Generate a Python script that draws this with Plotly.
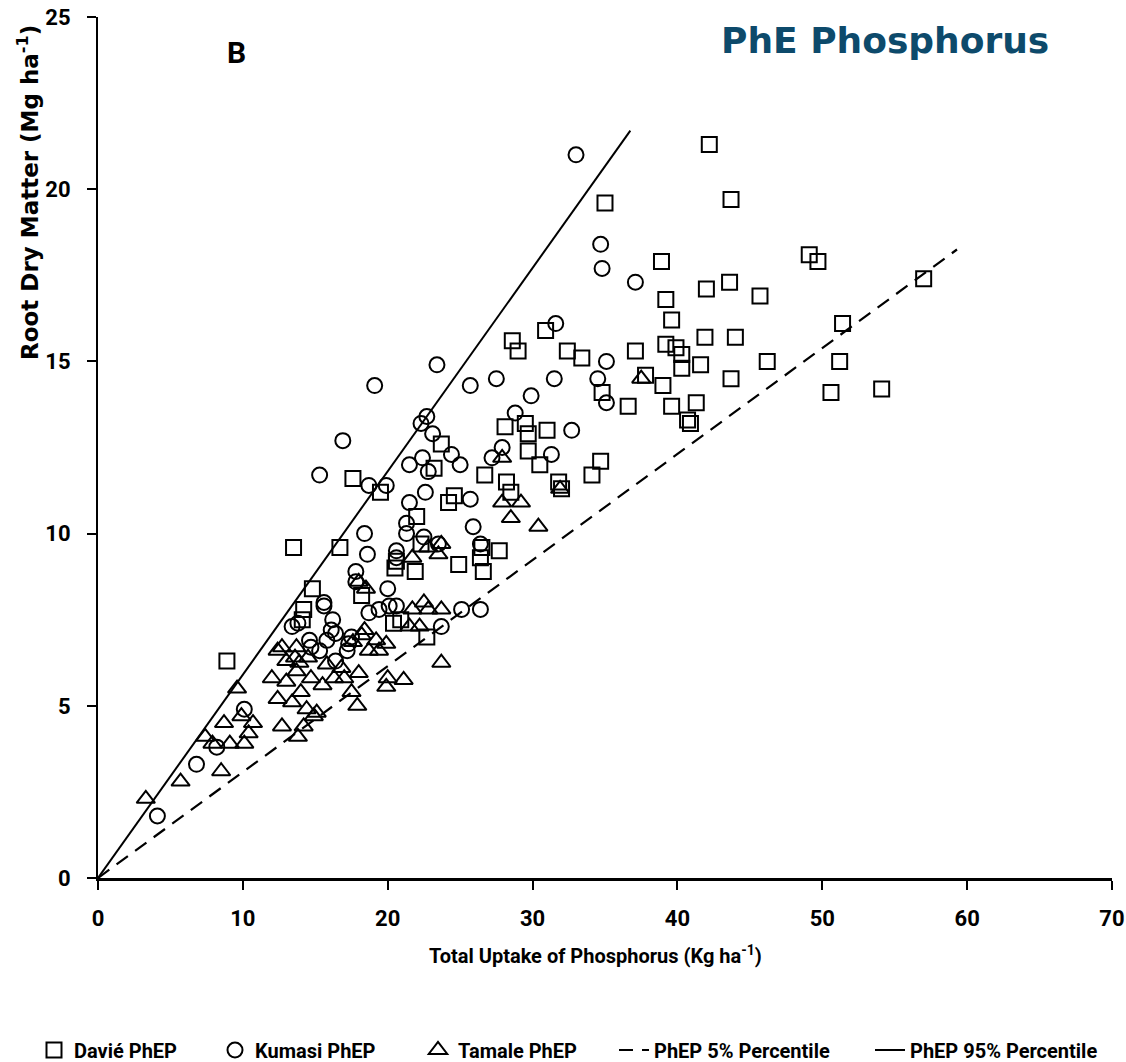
import plotly.graph_objects as go

# ---------------- data ----------------
davie_x = [42.2, 35.0, 43.7, 38.9, 49.1, 49.7, 57.0, 42.0, 43.6, 45.7, 39.2, 39.6, 51.4, 41.9, 44.0,
           37.1, 39.2, 39.9, 40.3, 40.3, 41.6, 46.2, 51.2, 43.7, 50.6, 54.1, 32.4, 33.4, 34.8, 36.6,
           37.8, 39.0, 39.6, 41.3, 40.7, 40.9, 28.6, 29.0, 30.9, 23.7, 17.6, 23.2, 19.5, 28.1, 29.5,
           29.7, 29.7, 31.0, 30.5, 26.7, 28.2, 28.5, 24.2, 24.6, 22.0, 31.8, 32.0, 34.7, 34.1, 13.5,
           16.7, 14.8, 14.2, 14.1, 8.9, 22.3, 27.7, 26.5, 20.5, 21.9, 24.9, 26.6, 26.4, 20.6, 18.2,
           20.9, 22.7, 20.4]
davie_y = [21.3, 19.6, 19.7, 17.9, 18.1, 17.9, 17.4, 17.1, 17.3, 16.9, 16.8, 16.2, 16.1, 15.7, 15.7,
           15.3, 15.5, 15.4, 15.2, 14.8, 14.9, 15.0, 15.0, 14.5, 14.1, 14.2, 15.3, 15.1, 14.1, 13.7,
           14.6, 14.3, 13.7, 13.8, 13.3, 13.2, 15.6, 15.3, 15.9, 12.6, 11.6, 11.9, 11.2, 13.1, 13.2,
           12.9, 12.4, 13.0, 12.0, 11.7, 11.5, 11.2, 10.9, 11.1, 10.5, 11.5, 11.3, 12.1, 11.7, 9.6,
           9.6, 8.4, 7.8, 7.5, 6.3, 9.7, 9.5, 9.6, 9.0, 8.9, 9.1, 8.9, 9.3, 9.2, 8.2,
           7.5, 7.0, 7.4]

kumasi_x = [33.0, 34.7, 34.8, 37.1, 31.6, 35.1, 34.5, 35.1, 32.7, 31.5, 27.5, 29.9, 28.8, 31.3, 27.2,
            27.9, 23.4, 19.1, 25.7, 16.9, 15.3, 22.7, 22.3, 23.1, 24.4, 25.0, 21.5, 22.4, 22.8, 18.7,
            19.9, 21.5, 22.6, 25.7, 21.3, 25.9, 18.4, 21.3, 22.5, 20.6, 23.5, 18.6, 26.4, 17.8, 20.0,
            25.1, 26.4, 23.7, 16.2, 17.5, 19.4, 20.6, 18.7, 4.1, 6.8, 8.2, 10.1, 13.4, 13.8, 15.6,
            16.4, 14.7, 15.3, 16.4, 20.6, 17.8, 15.6, 16.1, 20.1, 14.6, 15.8, 17.3, 17.2]
kumasi_y = [21.0, 18.4, 17.7, 17.3, 16.1, 15.0, 14.5, 13.8, 13.0, 14.5, 14.5, 14.0, 13.5, 12.3, 12.2,
            12.5, 14.9, 14.3, 14.3, 12.7, 11.7, 13.4, 13.2, 12.9, 12.3, 12.0, 12.0, 12.2, 11.8, 11.4,
            11.4, 10.9, 11.2, 11.0, 10.3, 10.2, 10.0, 10.0, 9.9, 9.5, 9.7, 9.4, 9.7, 8.9, 8.4,
            7.8, 7.8, 7.3, 7.5, 7.0, 7.8, 7.9, 7.7, 1.8, 3.3, 3.8, 4.9, 7.3, 7.4, 7.9,
            7.1, 6.7, 6.6, 6.3, 9.3, 8.6, 8.0, 7.2, 7.9, 6.9, 6.9, 6.8, 6.6]

tamale_x = [3.3, 5.7, 8.5, 7.4, 8.7, 9.6, 9.1, 7.9, 9.9, 10.7, 10.1, 10.4, 12.0, 12.4, 12.7,
            13.0, 12.4, 12.7, 13.0, 13.4, 13.7, 14.0, 14.4, 13.8, 14.2, 14.7, 14.9, 15.5, 15.8, 14.5,
            13.6, 13.7, 13.9, 15.1, 16.3, 16.8, 17.0, 17.5, 17.9, 18.0, 17.6, 18.2, 18.0, 18.5, 18.4,
            18.7, 19.2, 19.4, 19.9, 20.0, 19.9, 21.1, 21.7, 21.5, 22.2, 22.5, 22.8, 23.7, 23.7, 22.8,
            23.5, 21.7, 27.9, 27.9, 28.5, 29.2, 30.4, 23.7, 37.5, 31.9]
tamale_y = [2.3, 2.8, 3.1, 4.1, 4.5, 5.5, 3.9, 3.9, 4.7, 4.5, 3.9, 4.2, 5.8, 6.6, 6.7,
            6.3, 5.2, 4.4, 5.7, 5.1, 6.0, 5.4, 4.9, 4.1, 4.4, 5.8, 4.7, 5.6, 6.2, 6.4,
            6.4, 6.7, 6.25, 4.8, 5.8, 6.1, 5.8, 5.4, 5.0, 5.95, 6.85, 7.05, 8.6, 8.4, 7.2,
            6.6, 6.9, 6.6, 6.8, 5.8, 5.55, 5.75, 7.8, 7.3, 7.3, 8.0, 7.8, 7.8, 6.25, 9.6,
            9.4, 9.3, 12.2, 10.9, 10.45, 10.9, 10.2, 9.7, 14.5, 11.3]

p5_x = [0, 59.3]
p5_y = [0, 18.25]
p95_x = [0, 36.75]
p95_y = [0, 21.7]

x_ticks = [0, 10, 20, 30, 40, 50, 60, 70]
y_ticks = [0, 5, 10, 15, 20, 25]

# ---------------- styling ----------------
TICKFONT = "Roboto, Liberation Sans, sans-serif"
PX_L, PX_R, PX_T, PX_B = 98, 1112, 17, 878
W, H = 1126, 1062


def px2paper(px, py):
    return (px - PX_L) / (PX_R - PX_L), (PX_B - py) / (PX_B - PX_T)


fig = go.Figure()

mk_line = dict(color="black", width=2)
fig.add_trace(go.Scatter(x=davie_x, y=davie_y, mode="markers", name="Davié PhEP",
                         marker=dict(symbol="square-open", size=15, line=mk_line, color="black"),
                         legend="legend"))
fig.add_trace(go.Scatter(x=kumasi_x, y=kumasi_y, mode="markers", name="Kumasi PhEP",
                         marker=dict(symbol="circle-open", size=15, line=mk_line, color="black"),
                         legend="legend2"))
fig.add_trace(go.Scatter(x=tamale_x, y=tamale_y, mode="markers", name="Tamale PhEP",
                         marker=dict(symbol="triangle-up-open", size=16, line=mk_line, color="black"),
                         legend="legend3"))
fig.add_trace(go.Scatter(x=p5_x, y=p5_y, mode="lines", name="PhEP 5% Percentile",
                         line=dict(color="black", width=2.2, dash="14px,9px"), legend="legend4"))
fig.add_trace(go.Scatter(x=p95_x, y=p95_y, mode="lines", name="PhEP 95% Percentile",
                         line=dict(color="black", width=2), legend="legend5"))

leg_font = dict(family=TICKFONT, size=20, color="black", weight="bold")
leg_y = (H - 1050) / H  # container coordinates


def leg(px_left):
    return dict(x=px2paper(px_left, 0)[0], xref="paper", y=leg_y, yref="container",
                xanchor="left", yanchor="middle",
                orientation="h", font=leg_font, bgcolor="rgba(0,0,0,0)",
                itemwidth=30, borderwidth=0)


axis_common = dict(showgrid=False, zeroline=False, showline=True, linecolor="black",
                   ticks="outside", ticklen=9, tickwidth=2, tickcolor="black",
                   automargin=False, ticklabeloverflow="allow",
                   tickfont=dict(family=TICKFONT, size=22, color="black", weight="bold"))

fig.update_layout(
    width=W, height=H,
    margin=dict(l=PX_L, r=W - PX_R, t=PX_T, b=H - PX_B, autoexpand=False),
    plot_bgcolor="white", paper_bgcolor="white",
    showlegend=True,
    legend=leg(34), legend2=leg(215), legend3=leg(418), legend4=leg(614), legend5=leg(870),
    xaxis=dict(range=[0, 70.001], tickvals=x_ticks, ticktext=[str(v) for v in x_ticks],
               linewidth=3, ticklabelstandoff=10, **axis_common),
    yaxis=dict(range=[0, 25.001], tickvals=y_ticks, ticktext=[str(v) for v in y_ticks],
               linewidth=2, ticklabelstandoff=12, **axis_common),
)

# title, panel letter, axis titles
tx, ty = px2paper(885, 40)
fig.add_annotation(text="PhE Phosphorus", x=tx, y=ty, xref="paper", yref="paper",
                   xanchor="center", yanchor="middle", showarrow=False,
                   font=dict(family="DejaVu Sans", size=36, color="#0d4a6b", weight="bold"))
bx, by = px2paper(236, 52)
fig.add_annotation(text="B", x=bx, y=by, xref="paper", yref="paper",
                   xanchor="center", yanchor="middle", showarrow=False,
                   font=dict(family=TICKFONT, size=30, color="black", weight="bold"))
xx, xy = px2paper(595, 955)
fig.add_annotation(text="Total Uptake of Phosphorus (Kg ha<sup>-1</sup>)", x=xx, y=xy,
                   xref="paper", yref="paper", xanchor="center", yanchor="middle",
                   showarrow=False,
                   font=dict(family=TICKFONT, size=20, color="black", weight="bold"))
yx, yy = px2paper(28, 193)
fig.add_annotation(text="Root Dry Matter (Mg ha<sup>-1</sup>)", x=yx, y=yy,
                   xref="paper", yref="paper", xanchor="center", yanchor="middle",
                   textangle=-90, showarrow=False,
                   font=dict(family="DejaVu Sans", size=23, color="black", weight="bold"))

fig.write_html("out.html")
